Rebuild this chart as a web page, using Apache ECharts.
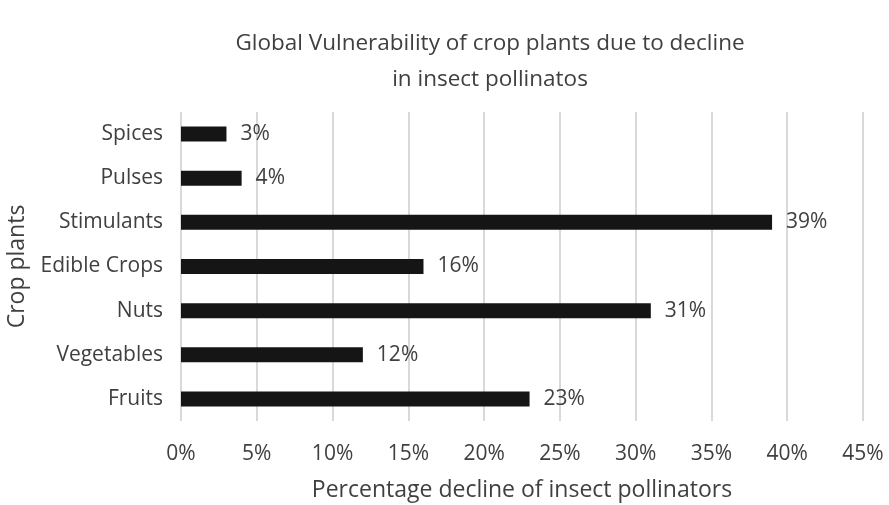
<!DOCTYPE html>
<html>
<head>
<meta charset="utf-8">
<script src="https://cdn.jsdelivr.net/npm/echarts@6/dist/echarts.min.js"></script>
<style>
  html, body { margin: 0; padding: 0; background: #fff; }
  #chart { width: 889px; height: 505px; }
</style>
</head>
<body>
<div id="chart"></div>
<script>
// categories listed bottom to top, as the category axis draws them
const categories = ['Fruits', 'Vegetables', 'Nuts', 'Edible Crops', 'Stimulants', 'Pulses', 'Spices']
const values = [23, 12, 31, 16, 39, 4, 3]
const xTicks = [0, 5, 10, 15, 20, 25, 30, 35, 40, 45]

const textColor = '#404040'
const font = '"Open Sans", sans-serif'

const chart = echarts.init(document.getElementById('chart'))

chart.setOption({
  animation: false,
  title: {
    text: 'Global Vulnerability of crop plants due to decline\nin insect pollinatos',
    left: 485,
    top: 21,
    textAlign: 'center',
    textStyle: {
      color: textColor,
      fontFamily: font,
      fontWeight: 'normal',
      fontSize: 22.5,
      lineHeight: 36,
    },
  },
  grid: {
    left: 181,
    right: 26,
    top: 112,
    bottom: 84,
    outerBoundsMode: 'none',
    containLabel: false,
  },
  xAxis: {
    type: 'value',
    min: xTicks[0],
    max: xTicks[xTicks.length - 1],
    interval: 5,
    name: 'Percentage decline of insect pollinators',
    nameLocation: 'middle',
    nameGap: 58,
    nameTextStyle: { color: textColor, fontFamily: font, fontSize: 23 },
    axisLine: { show: false },
    axisTick: { show: false },
    axisLabel: {
      color: textColor,
      fontFamily: font,
      fontSize: 21,
      margin: 23,
      formatter: (v) => v + '%',
    },
    splitLine: { lineStyle: { color: '#d9d9d9', width: 2 } },
  },
  yAxis: {
    type: 'category',
    data: categories,
    name: 'Crop plants',
    nameLocation: 'middle',
    nameGap: 152,
    nameTextStyle: { color: textColor, fontFamily: font, fontSize: 23 },
    axisLine: { show: false },
    axisTick: { show: false },
    axisLabel: {
      color: textColor,
      fontFamily: font,
      fontSize: 21,
      margin: 18,
    },
  },
  series: [
    {
      type: 'bar',
      data: values,
      barWidth: 15,
      itemStyle: { color: '#151515' },
      label: {
        show: true,
        position: 'right',
        distance: 14,
        color: textColor,
        fontFamily: font,
        fontSize: 21,
        formatter: (p) => p.value + '%',
      },
    },
  ],
})
</script>
</body>
</html>
